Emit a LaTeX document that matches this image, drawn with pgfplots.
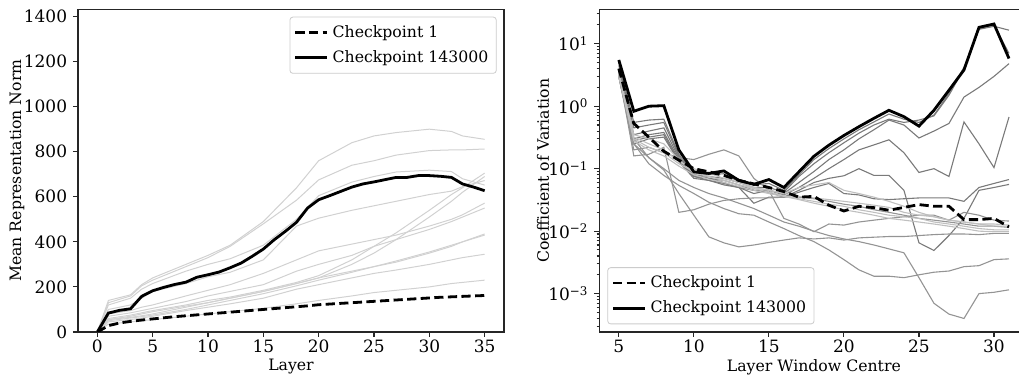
\documentclass[border=0pt]{standalone}
\usepackage{fontspec}
\setmainfont{DejaVu Serif}
\usepackage{pgfplots}
\usepackage{pgfplotstable}
\pgfplotsset{compat=1.18}

\pgfplotstableread{
L c1 c143
0 0 0
1 28 84
2 40 96
3 47 103
4 53 158
5 58 183
6 63 198
7 68 211
8 72 221
9 76 243
10 80 254
11 84 266
12 88 285
13 92 306
14 96 336
15 100 368
16 104 410
17 108 447
18 112 487
19 116 550
20 121 587
21 124 605
22 127 624
23 130 643
24 133 657
25 136 666
26 139 676
27 142 686
28 145 686
29 148 694
30 151 694
31 154 691
32 156 686
33 158 657
34 160 643
35 162 627
}\leftblack

\pgfplotstableread{
L A B C D E F G H I J K M
0 0 0 0 0 0 0 0 0 0 0 0 0
1 140 130 120 100 60 55 80 70 55 50 45 35
3 165 160 150 120 75 70 95 85 65 62 55 45
4 210 205 190 150 85 80 110 95 72 68 62 50
5 240 230 215 180 95 90 120 105 80 75 70 55
8 300 290 270 215 120 115 160 135 110 100 95 70
10 340 330 300 245 140 130 185 160 130 120 110 80
12 385 380 325 265 155 150 210 180 150 140 125 90
15 490 480 385 320 185 180 260 210 180 170 150 105
18 640 585 500 470 220 215 320 270 215 205 190 125
20 760 675 605 505 250 240 360 300 240 230 210 140
23 840 740 665 540 320 300 390 340 270 265 240 160
25 870 760 690 560 380 350 410 380 290 290 260 175
27 885 785 710 580 440 410 430 410 310 315 275 185
30 900 805 718 610 540 510 470 455 350 355 300 200
32 890 808 712 625 610 580 500 490 380 385 320 215
33 870 808 680 645 640 620 520 510 400 400 330 220
35 855 812 652 672 705 690 572 550 435 430 345 230
}\leftgray

\pgfplotstableread{
c B D R1 R2 R3 R4 R5 R6 R7 R8 R9 R10 R11 R12 R13 R14 R15
5 5.5 4.0 5.0 4.5 4.0 3.5 3.0 3.2 3.0 3.5 3.0 3.0 3.5 3.2 3.0 3.3 3.5
6 0.83 0.53 0.55 0.45 0.35 0.3 0.25 0.28 0.2 0.16 0.25 0.25 0.3 0.3 0.28 0.32 0.35
7 1.0 0.32 0.6 0.5 0.4 0.35 0.3 0.32 0.22 0.17 0.15 0.12 0.15 0.22 0.2 0.25 0.3
8 1.02 0.19 0.62 0.55 0.45 0.38 0.32 0.35 0.18 0.22 0.095 0.078 0.1 0.18 0.16 0.2 0.25
9 0.2 0.137 0.17 0.16 0.15 0.14 0.13 0.13 0.15 0.02 0.04 0.054 0.065 0.12 0.11 0.13 0.14
10 0.089 0.10 0.085 0.08 0.08 0.075 0.07 0.075 0.14 0.022 0.018 0.04 0.05 0.09 0.08 0.1 0.085
11 0.084 0.089 0.08 0.075 0.07 0.07 0.065 0.065 0.17 0.027 0.0081 0.029 0.04 0.075 0.068 0.085 0.075
12 0.092 0.078 0.083 0.07 0.065 0.06 0.055 0.058 0.2 0.031 0.0065 0.023 0.034 0.065 0.06 0.07 0.065
13 0.065 0.065 0.062 0.06 0.055 0.05 0.05 0.05 0.16 0.033 0.0056 0.019 0.028 0.055 0.052 0.06 0.055
14 0.056 0.057 0.055 0.05 0.045 0.04 0.028 0.045 0.07 0.034 0.006 0.018 0.023 0.048 0.045 0.05 0.05
15 0.067 0.05 0.058 0.05 0.045 0.045 0.035 0.042 0.045 0.034 0.0066 0.014 0.018 0.042 0.04 0.045 0.045
16 0.05 0.043 0.045 0.042 0.04 0.038 0.035 0.035 0.016 0.035 0.0072 0.011 0.014 0.037 0.036 0.04 0.04
17 0.089 0.035 0.08 0.075 0.06 0.05 0.045 0.042 0.013 0.035 0.0078 0.0085 0.012 0.033 0.032 0.036 0.05
18 0.158 0.036 0.14 0.12 0.09 0.07 0.06 0.05 0.0098 0.033 0.0075 0.0068 0.01 0.03 0.028 0.034 0.055
19 0.238 0.026 0.21 0.18 0.14 0.1 0.07 0.058 0.013 0.03 0.0078 0.005 0.0085 0.027 0.025 0.032 0.06
20 0.34 0.021 0.3 0.26 0.2 0.14 0.077 0.04 0.0125 0.027 0.0072 0.0035 0.0075 0.025 0.022 0.03 0.045
21 0.47 0.025 0.42 0.37 0.3 0.2 0.1 0.038 0.014 0.025 0.0078 0.0024 0.0068 0.022 0.02 0.028 0.04
22 0.64 0.0238 0.56 0.5 0.42 0.24 0.078 0.033 0.015 0.022 0.008 0.0019 0.006 0.02 0.018 0.026 0.035
23 0.86 0.0216 0.75 0.62 0.6 0.29 0.078 0.032 0.016 0.02 0.0082 0.0019 0.0052 0.018 0.016 0.024 0.03
24 0.68 0.024 0.62 0.55 0.5 0.18 0.045 0.033 0.017 0.018 0.0082 0.0018 0.0045 0.017 0.015 0.02 0.025
25 0.48 0.0266 0.55 0.6 0.31 0.087 0.0065 0.034 0.018 0.016 0.0085 0.002 0.0018 0.016 0.014 0.018 0.02
26 0.86 0.025 0.72 0.7 0.4 0.1 0.0049 0.034 0.018 0.015 0.0088 0.0022 0.0007 0.014 0.013 0.017 0.017
27 1.8 0.025 1.6 1.5 0.53 0.075 0.0085 0.034 0.015 0.014 0.009 0.0023 0.00047 0.013 0.012 0.015 0.015
28 3.8 0.0153 4.2 4.0 1.4 0.56 0.016 0.03 0.02 0.013 0.009 0.0027 0.0004 0.012 0.011 0.014 0.014
29 18.3 0.0153 17 17.5 2.0 0.25 0.045 0.05 0.018 0.012 0.0088 0.0028 0.001 0.011 0.01 0.013 0.013
30 20.7 0.016 19 20 3.0 0.104 0.05 0.058 0.015 0.012 0.0092 0.0035 0.00105 0.0105 0.0098 0.012 0.013
31 5.8 0.0117 16.5 7 4.8 0.67 0.056 0.067 0.0145 0.0115 0.0092 0.0036 0.00115 0.0105 0.0098 0.012 0.0125
}\rightdata

\begin{document}
\begin{tikzpicture}[font=\fontsize{7.85}{9.4}\selectfont]
\pgfplotsset{
  base/.style={
    scale only axis,
    height=161.35pt,
    tick align=outside,
    tick pos=left,
    axis line style={black!85, line width=0.55pt},
    every tick/.style={black!85, line width=0.55pt},
    major tick length=2.5pt,
    minor tick length=1.4pt,
    /pgf/number format/assume math mode=true,
    /pgf/number format/1000 sep={},
    tick label style={font=\fontsize{8.5}{10}\selectfont},
    xticklabel style={yshift=2pt},
    yticklabel style={xshift=0.6pt},
    label style={font=\fontsize{7.85}{9.4}\selectfont},
    legend cell align=left,
    legend style={draw=black!20, rounded corners=1.5pt, fill=white, fill opacity=0.8, text opacity=1,
      font=\fontsize{7.85}{9.4}\selectfont, inner xsep=2pt, inner ysep=2pt, row sep=1.2pt},
    legend image code/.code={\draw[##1] (0pt,0pt) -- (16pt,0pt);},
  },
  blk/.style={black, line width=1.4pt},
  dsh/.style={black, line width=1.4pt, dash pattern=on 4.6pt off 2.2pt},
}
\begin{axis}[base, at={(39pt,23pt)}, anchor=south west, width=213pt,
  xmin=-1.75, xmax=36.75, ymin=0, ymax=1432,
  xtick={0,5,...,35}, ytick={0,200,...,1400},
  xlabel={Layer}, ylabel={Mean Representation Norm},
  every axis x label/.style={at={(axis description cs:0.5,-0.1085)}, anchor=center},
  every axis y label/.style={at={(axis description cs:-0.1432,0.5)}, rotate=90, anchor=center},
  legend style={at={(axis description cs:1,1)}, anchor=north east, xshift=-3.65pt, yshift=-3.7pt},
]
\pgfplotsinvokeforeach{A,B,C,D,E,F,G,H,I,J,K,M}{
  \addplot[black!18, line width=0.5pt, forget plot] table[x=L, y=#1]{\leftgray};
}
\addplot[dsh] table[x=L, y=c1]{\leftblack};
\addlegendentry{Checkpoint 1}
\addplot[blk] table[x=L, y=c143]{\leftblack};
\addlegendentry{Checkpoint 143000}
\end{axis}

\begin{axis}[base, at={(299.65pt,23pt)}, anchor=south west, width=214.6pt,
  xmin=3.7, xmax=32.3, ymode=log, ymin=2.43e-4, ymax=35.6,
  xtick={5,10,...,30},
  ytick={1e-3,1e-2,1e-1,1,10},
  yticklabels={10\textsuperscript{−3},10\textsuperscript{−2},10\textsuperscript{−1},10\textsuperscript{0},10\textsuperscript{1}},
  minor ytick={3e-4,4e-4,5e-4,6e-4,7e-4,8e-4,9e-4,2e-3,3e-3,4e-3,5e-3,6e-3,7e-3,8e-3,9e-3,2e-2,3e-2,4e-2,5e-2,6e-2,7e-2,8e-2,9e-2,0.2,0.3,0.4,0.5,0.6,0.7,0.8,0.9,2,3,4,5,6,7,8,9,20,30},
  xlabel={Layer Window Centre}, ylabel={Coefficient of Variation},
  every axis x label/.style={at={(axis description cs:0.5,-0.1085)}, anchor=center},
  every axis y label/.style={at={(axis description cs:-0.1312,0.5)}, rotate=90, anchor=center},
  legend style={at={(axis description cs:0,0)}, anchor=south west, xshift=4pt, yshift=3.85pt},
]
\pgfplotsinvokeforeach{R1,R2,R3,R4,R5,R6}{
  \addplot[black!52, line width=0.55pt, forget plot] table[x=c, y=#1]{\rightdata};
}
\pgfplotsinvokeforeach{R7,R8,R9,R10,R11}{
  \addplot[black!42, line width=0.55pt, forget plot] table[x=c, y=#1]{\rightdata};
}
\pgfplotsinvokeforeach{R12,R13,R14,R15}{
  \addplot[black!25, line width=0.55pt, forget plot] table[x=c, y=#1]{\rightdata};
}
\addplot[dsh] table[x=c, y=D]{\rightdata};
\addlegendentry{Checkpoint 1}
\addplot[blk] table[x=c, y=B]{\rightdata};
\addlegendentry{Checkpoint 143000}
\end{axis}
\pgfresetboundingbox
\useasboundingbox (0pt,0pt) rectangle (509.5pt,189pt);
\end{tikzpicture}
\end{document}
